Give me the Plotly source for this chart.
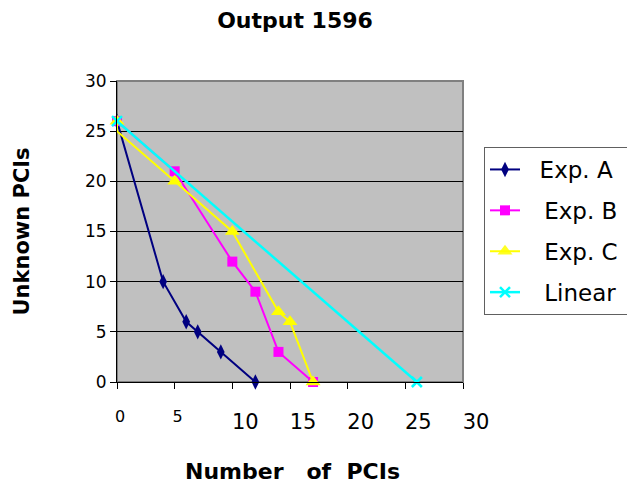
import plotly.graph_objects as go

# Data
a_x = [0, 4, 6, 7, 9, 12]
a_y = [26, 10, 6, 5, 3, 0]
b_x = [0, 5, 10, 12, 14, 17]
b_y = [26, 21, 12, 9, 3, 0]
c_x = [0, 0, 5, 10, 14, 15, 17]
c_y = [26, 25, 20, 15, 7, 6, 0]
lin_x = [0, 26]
lin_y = [26, 0]

x_tickvals = [0, 5, 10, 15, 20, 25, 30]
x_ticklabels = ["0", "5", "10", "15", "20", "25", "30"]
y_tickvals = [0, 5, 10, 15, 20, 25, 30]

NB = "\u00a0"
TH = "\u2009"
FONT = "DejaVu Sans"
OFF = 8  # page body margin
W, H = 660, 486
PL, PT, PW, PH = 117, 81, 346, 301  # plot area on the page

def xlab(t):
    if len(t) == 1:
        return "<span style='font-size:16px;baseline-shift:7px'>" + t + "</span>"
    return NB * 3 + t

fig = go.Figure()
fig.add_trace(go.Scatter(
    x=a_x, y=a_y, name=NB * 2 + "Exp. A" + NB * 3, legendgroup="a", mode="lines+markers",
    line=dict(color="#000080", width=2),
    marker=dict(symbol="diamond-tall", size=11, color="#000080"),
    cliponaxis=False))
fig.add_trace(go.Scatter(
    x=b_x, y=b_y, name=NB * 2 + TH + "Exp. B", legendgroup="b", mode="lines+markers",
    line=dict(color="#FF00FF", width=2),
    marker=dict(symbol="square", size=10, color="#FF00FF"),
    cliponaxis=False))
fig.add_trace(go.Scatter(
    x=c_x, y=c_y, name=NB * 2 + TH + "Exp. C", legendgroup="c", mode="lines+markers",
    line=dict(color="#FFFF00", width=2),
    marker=dict(symbol="triangle-up", size=13, color="#FFFF00",
                opacity=[1, 0, 1, 1, 1, 1, 1]),
    cliponaxis=False))
fig.add_trace(go.Scatter(
    x=lin_x, y=lin_y, name=NB * 2 + TH + "Linear", legendgroup="d", mode="lines+markers",
    line=dict(color="#00FFFF", width=2.5),
    marker=dict(symbol="x-thin", size=10, color="#00FFFF", line=dict(color="#00FFFF", width=2.5)),
    cliponaxis=False))

fig.update_layout(
    width=W, height=H,
    margin=dict(l=PL - OFF, r=W - (PL - OFF) - PW, t=PT - OFF, b=H - (PT - OFF) - PH),
    paper_bgcolor="white", plot_bgcolor="#C0C0C0",
    font=dict(family=FONT, color="black"),
    title=dict(text="<b>Output 1596</b>", font=dict(family=FONT, size=22, color="black"),
               x=(295 - OFF) / W, xanchor="center", xref="container",
               y=1 - (20 - OFF) / H, yanchor="middle", yref="container"),
    showlegend=True,
    legend=dict(x=(484 - PL) / PW, xanchor="left", y=(PT + PH - 147) / PH, yanchor="top",
                bgcolor="white", bordercolor="#606060", borderwidth=1,
                font=dict(family=FONT, size=23, color="black"),
                tracegroupgap=8, itemwidth=30),
    xaxis=dict(range=[0, 30], tickvals=x_tickvals, ticktext=[xlab(t) for t in x_ticklabels],
               tickfont=dict(family=FONT, size=21, color="black"),
               showgrid=False, zeroline=False, showline=True, linecolor="black", linewidth=1,
               ticks="outside", ticklen=6, tickcolor="black", ticklabelstandoff=15,
               ticklabelshift=3),
    yaxis=dict(range=[0, 30], tickvals=y_tickvals,
               tickfont=dict(family=FONT, size=17, color="black"),
               showgrid=True, gridcolor="black", gridwidth=1, zeroline=False,
               showline=True, linecolor="black", linewidth=1,
               ticks="outside", ticklen=6, tickcolor="black"),
    shapes=[dict(type="rect", xref="paper", yref="paper", x0=0, x1=1, y0=0, y1=1,
                 line=dict(color="#808080", width=2), layer="below")],
    annotations=[
        dict(text="<b>Number" + NB * 2 + " of" + NB + " PCIs</b>", xref="paper", yref="paper",
             x=(292 - PL) / PW, y=(PT + PH - 471) / PH, xanchor="center", yanchor="middle",
             showarrow=False, font=dict(family=FONT, size=22, color="black")),
        dict(text="<b>Unknown PCIs</b>", xref="paper", yref="paper",
             x=(21 - PL) / PW, y=0.5, xanchor="center", yanchor="middle", textangle=-90,
             showarrow=False, font=dict(family=FONT, size=21, color="black")),
    ],
)

fig.write_html("out.html")
